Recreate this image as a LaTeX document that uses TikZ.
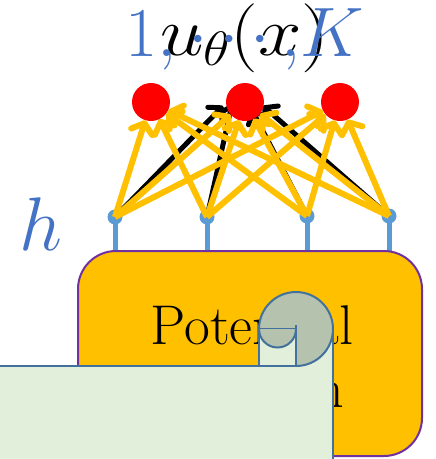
\RequirePackage{fix-cm}
\documentclass[tikz,border=0pt]{standalone}
\usetikzlibrary{arrows.meta}
\definecolor{orng}{HTML}{FFC000}
\definecolor{purp}{HTML}{7030A0}
\definecolor{notefill}{HTML}{E2EFDA}
\definecolor{notegrey}{HTML}{B5C2AE}
\definecolor{noteedge}{HTML}{41719C}
\definecolor{dotblue}{HTML}{5B9BD5}
\definecolor{txtblue}{HTML}{4472C4}
\tikzset{
  reddot/.style={circle,fill=red,inner sep=0pt,minimum size=38pt},
  bluedot/.style={circle,fill=dotblue,inner sep=0pt,minimum size=15pt},
  stem/.style={draw=dotblue,line width=5pt},
  yarrow/.style={draw=orng,line width=6pt,-{Straight Barb[length=9pt,width=22pt,round]}},
  karrow/.style={draw=black,line width=5pt,-{Straight Barb[length=9pt,width=20pt,round]}},
  pbox/.style={draw=purp,fill=orng,line width=2pt,rounded corners=38pt},
  noteline/.style={draw=noteedge,line width=2pt,line join=round},
}
\begin{document}
\begin{tikzpicture}[x=1pt,y=-1pt]
\useasboundingbox (0,0) rectangle (436,459);
% stems
\node[bluedot] (d1) at (115,217) {};
\node[bluedot] (d2) at (207,217) {};
\node[bluedot] (d3) at (307,216) {};
\node[bluedot] (d4) at (389,216) {};
\coordinate (b1) at (115,252);
\coordinate (b2) at (207,252);
\coordinate (b3) at (307,252);
\coordinate (b4) at (389,252);
\foreach \i in {1,...,4} {\draw[stem] (d\i.center) -- (b\i);}
% box
\draw[pbox] (78,251) rectangle (422,456);
\node[font=\fontsize{56}{63}\selectfont,align=center] (pf) at (252,357) {Potential\\function};
% black arrows
\coordinate (t1) at (223,106);
\coordinate (t2) at (232,104);
\coordinate (t3) at (252,110);
\coordinate (t4) at (263,106);
\foreach \i in {1,...,4} {\draw[karrow] (d\i.center) -- (t\i);}
% output circles
\node[reddot] (c1) at (151,102) {};
\node[reddot] (c2) at (245,102) {};
\node[reddot] (c3) at (340,102) {};
% yellow arrows
\foreach \i in {1,...,4} {\foreach \j in {1,2,3} {\draw[yarrow] (d\i.center) -- (c\j);}}
% labels
\node[font=\fontsize{69}{69}\selectfont,anchor=base] (u) at (245,55) {\scalebox{1.13}[1]{$u_\theta(x)$}};
\node[font=\fontsize{70}{70}\selectfont,anchor=base,text=txtblue] (k) at (245,56) {$1{,}\cdots{,}K$};
\node[font=\fontsize{76}{76}\selectfont,text=txtblue,anchor=base] (h) at (41,250) {$h$};
% scroll
\fill[notefill] (-5,466) -- (-5,366) -- (259,366) -- (259,329) -- (333,329) -- (333,466) -- cycle;
\draw[noteline] (-5,366) -- (259,366);
\draw[noteline] (333,329) -- (333,466);
\filldraw[noteline,fill=notegrey] (296,329) circle[radius=37];
\filldraw[noteline,fill=notefill] (259,329) rectangle (296,366);
\filldraw[noteline,fill=notegrey] (259,329) arc[start angle=180,end angle=0,radius=18.5];
\draw[noteline] (296,325) -- (296,366);
\end{tikzpicture}
\end{document}
